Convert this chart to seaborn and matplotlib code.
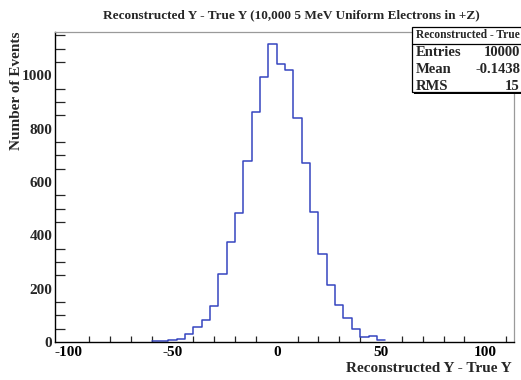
import numpy as np
import pandas as pd
import matplotlib
matplotlib.use("Agg")
import matplotlib.pyplot as plt
from matplotlib.ticker import MultipleLocator
from matplotlib.patches import Rectangle
import seaborn as sns

# ---- data ----
bin_lefts = [-60, -56, -52, -48, -44, -40, -36, -32, -28, -24, -20, -16, -12, -8,
             -4, 0, 4, 8, 12, 16, 20, 24, 28, 32, 36, 40, 44, 48]
bin_width = 4
counts = [3, 4, 6, 11, 29, 56, 82, 136, 255, 376, 485, 679, 864, 995,
          1117, 1043, 1021, 838, 670, 486, 330, 213, 140, 90, 49, 17, 21, 7]
x_ticks = [-100, -50, 0, 50, 100]
y_ticks = [0, 200, 400, 600, 800, 1000]
title = "Reconstructed Y - True Y (10,000 5 MeV Uniform Electrons in +Z)"
x_label = "Reconstructed Y - True Y"
y_label = "Number of Events"
stats_name = "Reconstructed - True"
stats_keys = ["Entries", "Mean", "RMS"]
stats_vals = ["10000", "-0.1438", "15"]

sns.set_style("white")
plt.rcParams["font.family"] = ["Liberation Serif", "DejaVu Serif"]
plt.rcParams["font.weight"] = "bold"
plt.rcParams["axes.unicode_minus"] = False

df = pd.DataFrame({"x": np.array(bin_lefts) + bin_width / 2, "w": counts})
edges = list(bin_lefts) + [bin_lefts[-1] + bin_width]

fig = plt.figure(figsize=(5.21, 3.80), dpi=100)
ax = fig.add_axes([55 / 521, 1 - 342 / 380, (514 - 55) / 521, (342 - 32) / 380])

sns.histplot(data=df, x="x", weights="w", bins=edges, element="step", fill=False,
             color="#3545c0", linewidth=1.1, ax=ax)

ax.set_xlim(-106.4, 113.8)
ax.set_ylim(0, 1162)
ax.set_xticks(x_ticks)
ax.set_yticks(y_ticks)
ax.xaxis.set_minor_locator(MultipleLocator(10))
ax.yaxis.set_minor_locator(MultipleLocator(50))
ax.tick_params(axis="x", which="major", direction="in", length=8, width=0.9,
               labelsize=11, pad=3, colors="black")
ax.tick_params(axis="x", which="minor", direction="in", length=4, width=0.9, bottom=True)
ax.tick_params(axis="y", which="major", direction="in", length=14, width=0.9,
               labelsize=11, pad=2)
ax.tick_params(axis="y", which="minor", direction="in", length=7, width=0.9, left=True)
for lab in ax.get_xticklabels() + ax.get_yticklabels():
    lab.set_fontweight("bold")

ax.set_xlabel("")
ax.set_ylabel("")
for s in ["left", "bottom"]:
    ax.spines[s].set_color("black")
    ax.spines[s].set_linewidth(1.0)
for s in ["top", "right"]:
    ax.spines[s].set_color("#9a9a9a")
    ax.spines[s].set_linewidth(0.9)

fig.text(291 / 521, 1 - 15 / 380, title, ha="center", va="center",
         fontsize=9.5, fontweight="bold")
fig.text(512 / 521, 1 - 368 / 380, x_label, ha="right", va="center",
         fontsize=11, fontweight="bold")
fig.text(17 / 521, 1 - 32 / 380, y_label, ha="center", va="top", rotation=90,
         fontsize=11, fontweight="bold")

# stats box (extends past the right edge of the picture, as in the reference)
box_l, box_t, box_b = 412, 27, 92
fig.patches.append(Rectangle((box_l / 521 + 0.004, 1 - (box_b + 2) / 380), 0.3,
                             (box_b - box_t) / 380, transform=fig.transFigure,
                             facecolor="black", edgecolor="none", zorder=5))
fig.patches.append(Rectangle((box_l / 521, 1 - box_b / 380), 0.3,
                             (box_b - box_t) / 380, transform=fig.transFigure,
                             facecolor="white", edgecolor="black", linewidth=0.9, zorder=6))
fig.lines.append(plt.Line2D([box_l / 521, 1.0], [1 - 43.5 / 380, 1 - 43.5 / 380],
                            transform=fig.transFigure, color="black", linewidth=0.9, zorder=7))
fig.text(416 / 521, 1 - 35.5 / 380, stats_name, ha="left", va="center",
         fontsize=8.3, fontweight="bold", zorder=8)
for i, (k, v) in enumerate(zip(stats_keys, stats_vals)):
    y = 1 - (53 + i * 16.5) / 380
    fig.text(416 / 521, y, k, ha="left", va="center", fontsize=10.5,
             fontweight="bold", zorder=8)
    fig.text(520 / 521, y, v, ha="right", va="center", fontsize=10.5,
             fontweight="bold", zorder=8)

fig.savefig("out.png", dpi=100)
